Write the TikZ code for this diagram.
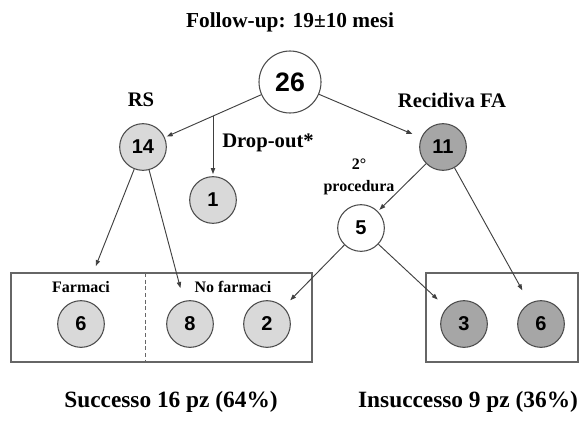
\documentclass[tikz,border=0pt]{standalone}
\usepackage{fontspec}
\setmainfont{Liberation Serif}
\setsansfont{Liberation Sans}
\usetikzlibrary{arrows.meta}

\begin{document}
\begin{tikzpicture}[x=0.75pt,y=-0.75pt,
    pz/.style={circle, draw=black!70, line width=0.8pt, fill=white, minimum size=35pt, inner sep=0pt, font=\sffamily\bfseries\fontsize{15}{17}\selectfont},
    ok/.style={pz, fill=black!15},
    ko/.style={pz, fill=black!35},
    lab/.style={font=\bfseries\fontsize{15.5}{18}\selectfont},
    small/.style={font=\bfseries\fontsize{12}{17}\selectfont, align=center},
    arr/.style={draw=black!75, line width=0.7pt, shorten >=1.5pt, -{Triangle[length=4.5pt,width=3.2pt]}},
    box/.style={draw=black!60, line width=0.9pt}]
    \useasboundingbox (0,0) rectangle (580,421);

    \node[lab, font=\bfseries\fontsize{16}{18}\selectfont] (title) at (290,22) {Follow-up: 19±10 mesi};

    \node[pz, minimum size=46.5pt, font=\sffamily\bfseries\fontsize{20}{22}\selectfont] (n26) at (290,82) {26};
    \node[lab] (rs) at (141,100) {RS};
    \node[lab] (rec) at (452,100) {Recidiva FA};
    \node[ok] (n14) at (143,147) {14};
    \node[ko] (n11) at (443,147) {11};
    \node[ok] (n1) at (213,200) {1};
    \node[lab] (drop-lab) at (268,143) {Drop-out*};
    \node[small] (proc) at (359,177) {2°\\procedura};
    \node[pz] (n5) at (361,228) {5};

    % boxes
    \draw[box] (11,273) rectangle (312,362);
    \draw[box, densely dashed, line width=0.6pt] (145,273) -- (145,362);
    \draw[box] (426,273) rectangle (578,362);

    \node[small] (farm-lab) at (81,287) {Farmaci};
    \node[small] (nofarm-lab) at (233,287) {No farmaci};
    \node[ok] (n6) at (81,324) {6};
    \node[ok] (n8) at (190,324) {8};
    \node[ok] (n2) at (267,324) {2};
    \node[ko] (n3) at (464,324) {3};
    \node[ko] (n6b) at (541,324) {6};
    \coordinate (farm) at (95,268);

    \node[lab, font=\bfseries\fontsize{17.5}{20}\selectfont] (succ) at (171,402) {Successo 16 pz (64\%)};
    \node[lab, font=\bfseries\fontsize{17.5}{20}\selectfont] (insucc) at (468,402) {Insuccesso 9 pz (36\%)};

    % arrows
    \draw[arr] (n26) -- coordinate[pos=0.5] (drop) (n14);
    \draw[arr] (drop) -- (drop |- n1.north);
    \draw[arr, shorten >=7pt] (n26) -- (n11);
    \draw[arr] (n14) -- (farm);
    \draw[arr, shorten >=10pt] (n14) -- (n8);
    \draw[arr] (n11) -- (n5);
    \draw[arr, shorten >=7pt] (n5) -- (n2);
    \draw[arr, shorten >=9pt] (n5) -- (n3);
    \draw[arr, shorten >=11pt] (n11) -- (n6b);
\end{tikzpicture}
\end{document}
